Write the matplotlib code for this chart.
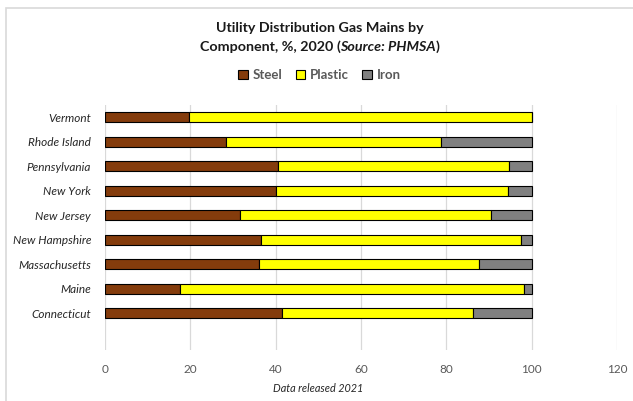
import matplotlib.pyplot as plt
import matplotlib.patches as patches
import numpy as np

plt.rcParams['font.family'] = ['Lato', 'DejaVu Sans']

states = ["Connecticut", "Maine", "Massachusetts", "New Hampshire", "New Jersey",
          "New York", "Pennsylvania", "Rhode Island", "Vermont"]
steel = [41.4, 17.6, 36.0, 36.5, 31.6, 40.0, 40.5, 28.3, 19.7]
plastic = [44.8, 80.5, 51.6, 60.9, 58.8, 54.4, 54.3, 50.4, 80.3]
iron = [13.8, 1.9, 12.4, 2.6, 9.6, 5.6, 5.2, 21.3, 0.0]

fig = plt.figure(figsize=(6.33, 4.01), dpi=100)
ax = fig.add_axes([105 / 633, 1 - 350 / 401, 512 / 633, 245 / 401])

y = np.arange(len(states))
h = 0.42
left = np.zeros(len(states))
for vals, col, name in [(steel, "#843C0C", "Steel"),
                        (plastic, "#FFFF00", "Plastic"),
                        (iron, "#808080", "Iron")]:
    ax.barh(y, vals, left=left, height=h, color=col, edgecolor="black",
            linewidth=0.8, label=name, zorder=3)
    left = left + np.array(vals)

ax.set_xlim(0, 120)
ax.set_ylim(-1.5, 8.5)
ax.set_xticks(range(0, 121, 20))
ax.set_yticks(y)
ax.set_yticklabels(states, fontstyle="italic", fontsize=8.5, color="#262626")
ax.tick_params(axis="x", labelsize=8.5, labelcolor="#595959", length=0, pad=10)
ax.tick_params(axis="y", length=0, pad=10)
ax.grid(axis="x", color="#D9D9D9", linewidth=0.9, zorder=0)
for s in ax.spines.values():
    s.set_visible(False)

# title: first line plain bold, second line has an italic source note
tkw = dict(fontsize=10.3, fontweight="bold", color="#1a1a1a", va="center")
fig.text(0.505, 1 - 28 / 401, "Utility Distribution Gas Mains by", ha="center", **tkw)
parts = [("Component, %, 2020 ", "normal"), ("(", "normal"),
         ("Source: PHMSA", "italic"), (")", "normal")]
fig.canvas.draw()
r = fig.canvas.get_renderer()
texts = [fig.text(0, 1 - 47 / 401, s, fontstyle=st, ha="left", **tkw) for s, st in parts]
widths = [t.get_window_extent(r).width / fig.bbox.width for t in texts]
x = 0.505 - sum(widths) / 2
for t, w in zip(texts, widths):
    t.set_x(x)
    x += w

fig.legend(loc="center", bbox_to_anchor=(0.505, 1 - 75 / 401), ncol=3,
           frameon=False, handlelength=0.7, handleheight=0.7,
           handletextpad=0.4, columnspacing=1.0,
           prop={"weight": "bold", "size": 9.5}, labelcolor="#595959")

fig.text(318 / 633, 1 - 389 / 401, "Data released 2021", ha="center", va="center",
         fontsize=7.8, fontstyle="italic", color="#262626")

fig.patches.append(patches.Rectangle((6 / 633, -0.1), 1.0, 1 - 8 / 401 + 0.1,
                                     transform=fig.transFigure, fill=False,
                                     edgecolor="#D9D9D9", linewidth=1.2))

fig.savefig("out.png", dpi=100)
